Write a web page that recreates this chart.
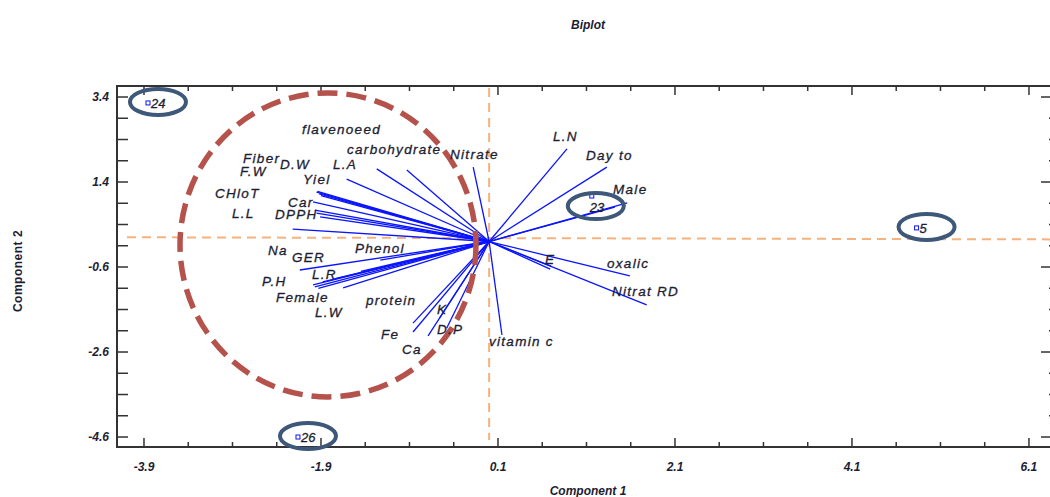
<!DOCTYPE html>
<html>
  <head>
    <meta charset="utf-8" />
    <title>Biplot</title>
    <script src="https://d3js.org/d3.v7.min.js" charset="utf-8"></script>
    <style>
      html,
      body {
        margin: 0;
        padding: 0;
        background-color: white;
        font-family: "Liberation Sans", Arial, sans-serif;
      }
      .lbl {
        font-style: italic;
        font-size: 13.5px;
        letter-spacing: 1.3px;
        fill: #1d1d33;
        stroke: #1d1d33;
        stroke-width: 0.3px;
      }
      .tick-label {
        font-style: italic;
        font-weight: bold;
        font-size: 12px;
        fill: #1d1d33;
      }
    </style>
  </head>

  <body>
    <svg id="chart"></svg>

    <script>
      // SVG size
      const width = 1050;
      const height = 497;

      // Plot frame
      const lmargin = 117;
      const tmargin = 86;
      const graphWidth = 934;
      const graphHeight = 361;

      // Axis ticks
      const xTickLabels = [-3.9, -1.9, 0.1, 2.1, 4.1, 6.1];
      const yTickLabels = [3.4, 1.4, -0.6, -2.6, -4.6];

      // Variable vectors (loadings)
      const vecNames = [
        "Nitrate", "carbohydrate", "flavenoeed", "L.A", "Yiel", "Fiber",
        "F.W", "D.W", "Car", "CHloT", "DPPH", "DPPH2", "L.L", "Na", "GER",
        "L.R", "P.H", "Female", "L.W", "Phenol", "b1", "b2", "Fe", "protein",
        "Ca", "K", "D.P", "vitamin c", "L.N", "Day to", "Male", "Male2", "E",
        "E2", "oxalic", "Nitrat RD"
      ];
      const vecX = [
        -0.18, -0.93, -1.27, -1.61, -1.95, -1.94, -1.92, -1.9, -1.99, -1.97,
        -1.95, -1.91, -2.22, -2.14, -1.99, -1.88, -1.97, -1.93, -1.65, -1.23,
        -1.75, -1.45, -0.86, -0.86, -0.69, -0.56, -0.48, 0.145, 0.88, 1.33,
        1.56, 1.42, 0.69, 0.7, 1.59, 1.78
      ];
      const vecY = [
        1.75, 1.68, 1.71, 1.47, 1.16, 1.18, 1.12, 1.08, 0.93, 0.74, 0.67,
        0.58, 0.29, -0.67, -1.02, -0.95, -1.07, -1.1, -1.09, -0.44, -0.88,
        -0.7, -1.92, -2.13, -2.22, -1.8, -2.04, -2.2, 2.18, 1.75, 0.91, 0.81,
        -0.65, -0.58, -0.81, -1.49
      ];

      // Variable labels and where they sit (data units)
      const labelText = [
        "flavenoeed", "carbohydrate", "Nitrate", "Fiber", "F.W", "D.W", "L.A",
        "Yiel", "CHloT", "Car", "L.L", "DPPH", "Na", "GER", "Phenol", "P.H",
        "L.R", "Female", "protein", "L.W", "K", "Fe", "D.P", "Ca",
        "vitamin c", "L.N", "Day to", "Male", "E", "oxalic", "Nitrat RD"
      ];
      const labelX = [
        -2.115, -1.606, -0.442, -2.781, -2.815, -2.363, -1.764, -2.103,
        -3.098, -2.273, -2.906, -2.42, -2.499, -2.228, -1.516, -2.567, -2.002,
        -2.408, -1.392, -1.968, -0.589, -1.222, -0.589, -0.985, -0.002, 0.722,
        1.094, 1.4, 0.631, 1.332, 1.388
      ];
      const labelY = [
        2.53, 2.06, 1.94, 1.85, 1.54, 1.71, 1.71, 1.35, 1.02, 0.81, 0.55,
        0.53, -0.32, -0.48, -0.27, -1.05, -0.88, -1.42, -1.49, -1.78, -1.71,
        -2.29, -2.18, -2.65, -2.46, 2.36, 1.92, 1.12, -0.53, -0.62, -1.28
      ];

      // Observations (scores) that are marked
      const obsLabel = ["24", "26", "5", "23"];
      const obsX = [-3.855, -2.16, 4.83, 1.16];
      const obsY = [3.26, -4.6, 0.32, 1.07];

      const svg = d3
        .select("#chart")
        .attr("width", width)
        .attr("height", height);

      const xScale = d3
        .scaleLinear()
        .domain([-4.205, 6.349])
        .range([lmargin, lmargin + graphWidth]);
      const yScale = d3
        .scaleLinear()
        .domain([-4.835, 3.659])
        .range([tmargin + graphHeight, tmargin]);

      // Title
      svg
        .append("text")
        .attr("x", 588)
        .attr("y", 29)
        .attr("text-anchor", "middle")
        .attr("font-size", 12)
        .attr("font-weight", "bold")
        .attr("font-style", "italic")
        .attr("fill", "#1d1d33")
        .text("Biplot");

      // Frame
      svg
        .append("rect")
        .attr("x", lmargin)
        .attr("y", tmargin)
        .attr("width", graphWidth)
        .attr("height", graphHeight)
        .attr("fill", "none")
        .attr("stroke", "#333")
        .attr("stroke-width", 2);

      // Ticks (inward), majors labelled, minors every 0.5
      const xMinor = d3.range(-3.9, 6.2, 0.5);
      const yMinor = d3.range(-4.6, 3.5, 0.5);
      const isMajorX = (v) => xTickLabels.some((t) => Math.abs(t - v) < 1e-6);
      const isMajorY = (v) => yTickLabels.some((t) => Math.abs(t - v) < 1e-6);

      const ticks = svg.append("g").attr("stroke", "#333").attr("stroke-width", 1.5);
      xMinor.forEach((v) => {
        const len = isMajorX(v) ? 9 : 5;
        ticks.append("line")
          .attr("x1", xScale(v)).attr("x2", xScale(v))
          .attr("y1", tmargin).attr("y2", tmargin + len);
        ticks.append("line")
          .attr("x1", xScale(v)).attr("x2", xScale(v))
          .attr("y1", tmargin + graphHeight).attr("y2", tmargin + graphHeight - len);
      });
      yMinor.forEach((v) => {
        ticks.append("line")
          .attr("x1", lmargin).attr("x2", lmargin + 11)
          .attr("y1", yScale(v)).attr("y2", yScale(v));
        const len = isMajorY(v) ? 10 : 2;
        ticks.append("line")
          .attr("x1", lmargin + graphWidth).attr("x2", lmargin + graphWidth - len)
          .attr("y1", yScale(v)).attr("y2", yScale(v));
      });

      // Tick labels
      svg.selectAll(".xtl")
        .data(xTickLabels)
        .enter()
        .append("text")
        .attr("class", "tick-label")
        .attr("x", (d) => xScale(d))
        .attr("y", 471)
        .attr("text-anchor", "middle")
        .text((d) => d.toFixed(1));
      svg.selectAll(".ytl")
        .data(yTickLabels)
        .enter()
        .append("text")
        .attr("class", "tick-label")
        .attr("x", 109)
        .attr("y", (d) => yScale(d) + 4)
        .attr("text-anchor", "end")
        .text((d) => d.toFixed(1));

      // Axis titles
      svg
        .append("text")
        .attr("x", 588)
        .attr("y", 495)
        .attr("text-anchor", "middle")
        .attr("font-size", 12)
        .attr("font-weight", "bold")
        .attr("font-style", "italic")
        .attr("fill", "#1d1d33")
        .text("Component 1");
      svg
        .append("text")
        .attr("transform", "translate(22,271) rotate(-90)")
        .attr("text-anchor", "middle")
        .attr("font-size", 12)
        .attr("font-weight", "bold")
        .attr("letter-spacing", 0.5)
        .attr("fill", "#1d1d33")
        .text("Component 2");

      // Zero reference lines (orange dashed)
      svg
        .append("line")
        .attr("x1", xScale(0)).attr("x2", xScale(0))
        .attr("y1", tmargin + 2).attr("y2", tmargin + graphHeight - 7)
        .attr("stroke", "#f6b27e")
        .attr("stroke-width", 2)
        .attr("stroke-dasharray", "9,6");
      svg
        .append("line")
        .attr("x1", lmargin + 10).attr("x2", width)
        .attr("y1", yScale(0.1)).attr("y2", yScale(0.05))
        .attr("stroke", "#f6b27e")
        .attr("stroke-width", 2)
        .attr("stroke-dasharray", "9,6");

      // Vectors
      svg.append("g")
        .selectAll("line")
        .data(vecNames)
        .enter()
        .append("line")
        .attr("x1", xScale(0))
        .attr("y1", yScale(0))
        .attr("x2", (d, i) => xScale(vecX[i]))
        .attr("y2", (d, i) => yScale(vecY[i]))
        .attr("stroke", "#0a14ff")
        .attr("stroke-width", 1.3);

      // Dashed circle around the left group
      const cx = -1.821, cy = -0.08, rxU = 1.672, ryU = 3.576;
      svg
        .append("ellipse")
        .attr("cx", xScale(cx))
        .attr("cy", yScale(cy))
        .attr("rx", xScale(cx + rxU) - xScale(cx))
        .attr("ry", yScale(cy) - yScale(cy + ryU))
        .attr("fill", "none")
        .attr("stroke", "#b4524b")
        .attr("stroke-width", 5.5)
        .attr("stroke-dasharray", "20,9");

      // Variable labels
      svg.append("g")
        .selectAll("text")
        .data(labelText)
        .enter()
        .append("text")
        .attr("class", "lbl")
        .attr("x", (d, i) => xScale(labelX[i]))
        .attr("y", (d, i) => yScale(labelY[i]))
        .text((d) => d);

      // Observation points
      const obs = svg.append("g");
      obsLabel.forEach((name, i) => {
        const px = xScale(obsX[i]);
        const py = yScale(obsY[i]);
        obs.append("rect")
          .attr("x", px - 2).attr("y", py - 2)
          .attr("width", 4).attr("height", 4)
          .attr("fill", "none")
          .attr("stroke", "#0a14ff")
          .attr("stroke-width", 1);
        const below = name === "23";
        obs.append("text")
          .attr("x", below ? px - 2 : px + 3)
          .attr("y", below ? py + 16 : py + 5)
          .attr("font-size", 13)
          .attr("font-style", "italic")
          .attr("fill", "#1d1d33")
          .attr("stroke", "#1d1d33")
          .attr("stroke-width", 0.3)
          .text(name);
        // hand-drawn highlight ellipse
        obs.append("ellipse")
          .attr("cx", below ? px + 4 : px + 10)
          .attr("cy", below ? py + 10 : py - 1)
          .attr("rx", 28)
          .attr("ry", 13)
          .attr("fill", "none")
          .attr("stroke", "#3d5878")
          .attr("stroke-width", 4);
      });
    </script>
  </body>
</html>
